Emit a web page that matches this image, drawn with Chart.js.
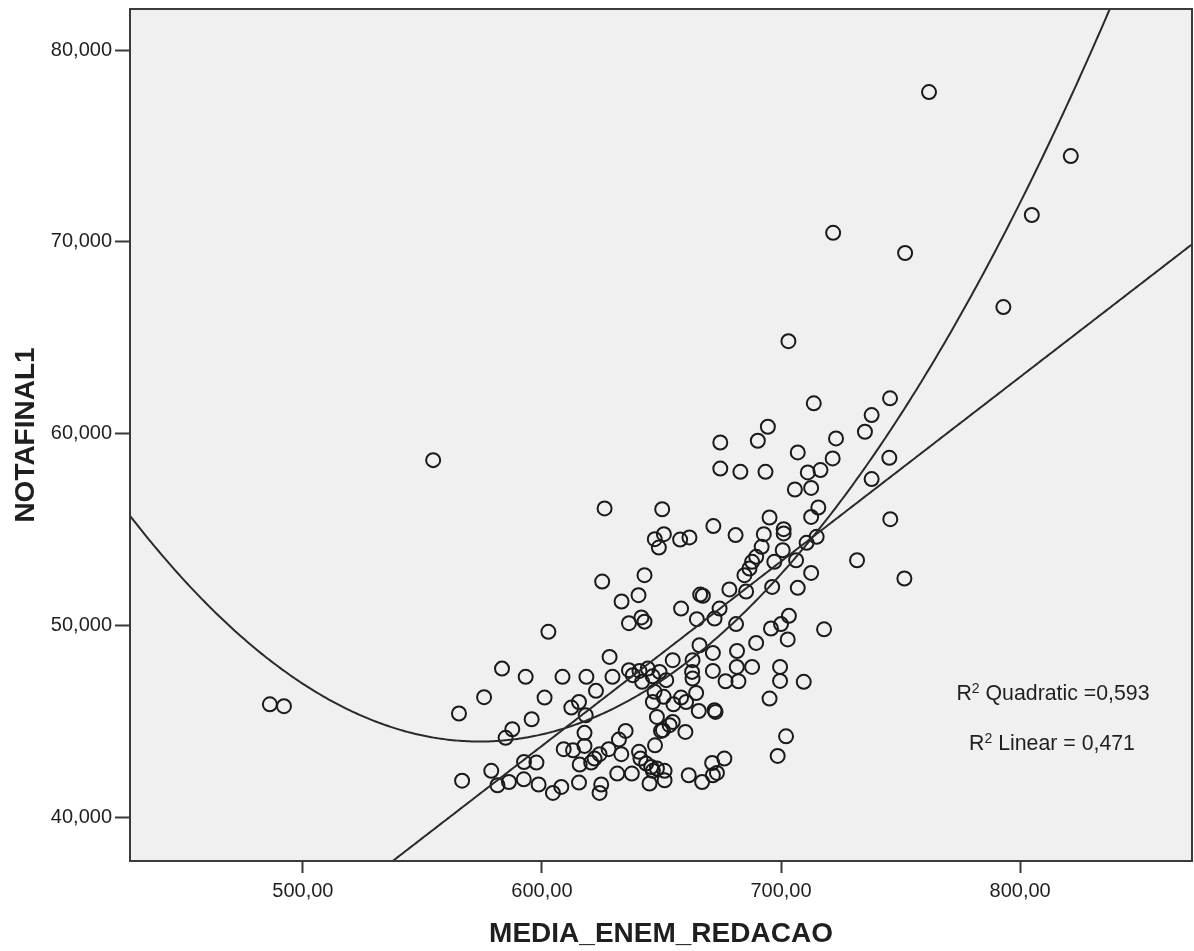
<!DOCTYPE html>
<html>
<head>
<meta charset="utf-8">
<title>NOTAFINAL1 x MEDIA_ENEM_REDACAO</title>
<script src="https://cdn.jsdelivr.net/npm/chart.js@4.4.1/dist/chart.umd.min.js"></script>
<style>
    html, body { margin: 0; padding: 0; background: #fff; }
    #wrap { width: 1194px; height: 951px; position: relative; }
</style>
</head>
<body>
<div id="wrap"><canvas id="scatter-redacao"></canvas></div>
<script>
'use strict';

// essay average (x) and final grade (y), one entry per student
const redacao = [
    761.9, 821.2, 804.9, 721.8, 751.9, 793.0, 703.1, 486.2, 492.1,
    554.5, 626.2, 650.3, 651.0, 647.2, 648.9, 642.9, 625.2, 640.4,
    713.7, 745.6, 737.9, 735.1, 694.5, 690.3, 674.6, 723.0, 707.0, 721.6,
    745.3, 674.6, 683.0, 693.5, 711.2, 716.5, 737.9, 705.8, 712.6, 715.6,
    712.6, 695.2, 745.7, 671.7, 701.1, 701.1, 657.8, 661.7, 681.0, 692.8,
    710.7, 714.9, 691.9, 700.7, 689.6, 687.9, 697.2, 706.3, 731.8, 686.8,
    684.7, 712.6, 751.6, 678.4, 685.4, 696.3, 707.0, 666.2, 667.3, 658.2,
    674.3, 703.3,
    633.3, 636.4, 641.6, 642.9, 602.7, 628.3, 583.3, 593.2, 608.6, 618.6,
    629.5, 636.4, 638.0, 640.8, 644.3, 646.3, 641.9, 649.2, 652.0, 622.6,
    615.5, 612.3, 618.3, 601.1, 575.8, 565.3, 595.7, 587.6, 584.8, 647.1,
    646.4, 648.1, 617.8, 635.0, 632.2, 649.8, 647.3, 609.1, 613.0, 617.8,
    627.9, 633.2, 640.6, 641.2, 624.1, 622.0, 620.6, 615.8, 592.5, 597.7,
    578.8, 566.6, 581.4, 586.2, 592.4, 598.6, 604.6, 608.1, 615.5, 624.8,
    624.1, 631.5, 637.6, 643.6, 645.7, 646.4, 648.1, 645.0, 651.3,
    664.8, 672.2, 681.2, 695.8, 700.0, 702.8, 718.0, 665.9, 671.5, 654.7,
    663.0, 662.8, 663.0, 681.6, 689.6, 671.5, 676.8, 681.5, 682.2, 687.9,
    699.6, 699.6, 709.5, 695.2, 664.5, 650.9, 658.2, 660.3, 655.0, 665.6,
    672.2, 672.6, 654.7, 653.4, 650.6, 660.0, 702.1, 698.6, 676.3, 671.2,
    673.2, 671.5, 661.4, 667.0, 651.3
];

const notaFinal = [
    77.81, 74.47, 71.40, 70.47, 69.42, 66.60, 64.82, 45.89, 45.79,
    58.62, 56.10, 56.06, 54.76, 54.50, 54.06, 52.62, 52.29, 51.58,
    61.58, 61.84, 60.97, 60.10, 60.36, 59.63, 59.54, 59.75, 59.02, 58.71,
    58.74, 58.18, 58.01, 58.01, 57.98, 58.10, 57.63, 57.09, 57.17, 56.15,
    55.66, 55.63, 55.54, 55.18, 55.02, 54.80, 54.48, 54.59, 54.71, 54.76,
    54.31, 54.62, 54.10, 53.92, 53.58, 53.32, 53.32, 53.40, 53.40, 52.97,
    52.62, 52.74, 52.45, 51.88, 51.77, 52.01, 51.96, 51.61, 51.55, 50.88,
    50.88, 50.50,
    51.25, 50.12, 50.42, 50.20, 49.67, 48.36, 47.75, 47.32, 47.32, 47.32,
    47.32, 47.67, 47.41, 47.63, 47.75, 47.35, 47.06, 47.58, 47.15, 46.59,
    46.01, 45.72, 45.32, 46.24, 46.26, 45.41, 45.11, 44.59, 44.14, 46.54,
    46.01, 45.23, 44.40, 44.50, 44.05, 44.50, 43.75, 43.55, 43.49, 43.72,
    43.55, 43.29, 43.41, 43.06, 43.29, 43.06, 42.85, 42.75, 42.88, 42.85,
    42.42, 41.91, 41.67, 41.84, 41.98, 41.71, 41.27, 41.58, 41.81, 41.71,
    41.27, 42.28, 42.28, 42.80, 42.62, 42.42, 42.54, 41.76, 41.93,
    50.33, 50.36, 50.07, 49.84, 50.07, 49.27, 49.80, 48.97, 48.57, 48.19,
    48.19, 47.58, 47.23, 48.67, 49.09, 47.63, 47.09, 47.84, 47.09, 47.84,
    47.84, 47.11, 47.06, 46.19, 46.48, 46.28, 46.24, 46.01, 45.89, 45.54,
    45.58, 45.49, 44.97, 44.80, 44.54, 44.45, 44.22, 43.20, 43.06, 42.83,
    42.31, 42.19, 42.19, 41.84, 42.42
];

// axis ticks
const xTicks = [500, 600, 700, 800];
const xTickLabels = ['500,00', '600,00', '700,00', '800,00'];
const yTicks = [40, 50, 60, 70, 80];
const yTickLabels = ['40,000', '50,000', '60,000', '70,000', '80,000'];

// fitted curves: y = c0 + c1*x (+ c2*x^2)
const linearCoef = [-13.98, 0.09617];
const quadraticCoef = [225.16, -0.6314, 0.00055];
const fitLabels = [' Quadratic =0,593', ' Linear = 0,471'];

const X_MIN = 427.7, X_MAX = 871.9;
const Y_MIN = 37.72, Y_MAX = 82.14;

const FONT = 'Arial, "Liberation Sans", sans-serif';
const INK = '#1f1f1f';

function curvePoints(coef) {
    const pts = [];
    for (let x = X_MIN; x <= X_MAX + 0.001; x += 1) {
        let y = 0;
        coef.forEach((c, i) => { y += c * Math.pow(x, i); });
        pts.push({x: x, y: y});
    }
    return pts;
}

// "R" with a raised "2", then the rest of the label, centred on cx
function drawRSquared(ctx, text, cx, baseline) {
    const big = '21.3px ' + FONT;
    const small = '14px ' + FONT;
    ctx.font = big;
    const wR = ctx.measureText('R').width;
    const wRest = ctx.measureText(text).width;
    ctx.font = small;
    const w2 = ctx.measureText('2').width;
    let x = cx - (wR + w2 + wRest) / 2;
    ctx.font = big;
    ctx.fillText('R', x, baseline);
    x += wR;
    ctx.font = small;
    ctx.fillText('2', x, baseline - 7);
    x += w2;
    ctx.font = big;
    ctx.fillText(text, x, baseline);
}

const plotFrame = {
    id: 'plotFrame',
    beforeDraw(chart) {
        const {ctx, chartArea: a} = chart;
        ctx.save();
        ctx.fillStyle = '#f0f0f0';
        ctx.fillRect(a.left, a.top, a.right - a.left, a.bottom - a.top);
        ctx.restore();
    },
    afterDraw(chart) {
        const {ctx, chartArea: a} = chart;
        ctx.save();
        ctx.strokeStyle = '#3a3a3a';
        ctx.lineWidth = 2;
        ctx.strokeRect(a.left, a.top, a.right - a.left, a.bottom - a.top);

        ctx.fillStyle = INK;
        ctx.textAlign = 'left';
        ctx.textBaseline = 'alphabetic';
        drawRSquared(ctx, fitLabels[0], 1053, 700);
        drawRSquared(ctx, fitLabels[1], 1052, 750);
        ctx.restore();
    }
};

const canvas = document.getElementById('scatter-redacao');

new Chart(canvas.getContext('2d'), {
    type: 'scatter',
    data: {
        datasets: [{
            label: 'NOTAFINAL1',
            data: redacao.map((x, i) => ({x: x, y: notaFinal[i]})),
            pointStyle: 'circle',
            pointRadius: 7,
            borderWidth: 2,
            borderColor: '#1a1a1a',
            backgroundColor: 'rgba(0,0,0,0)',
            order: 2
        }, {
            label: 'Quadratic',
            data: curvePoints(quadraticCoef),
            showLine: true,
            pointRadius: 0,
            borderWidth: 2,
            borderColor: '#2a2a2a',
            order: 1
        }, {
            label: 'Linear',
            data: curvePoints(linearCoef),
            showLine: true,
            pointRadius: 0,
            borderWidth: 2,
            borderColor: '#2a2a2a',
            order: 1
        }]
    },
    options: {
        responsive: true,
        maintainAspectRatio: false,
        animation: false,
        layout: {
            autoPadding: false,
            padding: {top: 9, right: 2, left: 0, bottom: 0}
        },
        plugins: {
            legend: {display: false},
            tooltip: {enabled: false}
        },
        scales: {
            x: {
                type: 'linear',
                min: X_MIN,
                max: X_MAX,
                afterBuildTicks: scale => { scale.ticks = xTicks.map(v => ({value: v})); },
                afterFit: scale => { scale.height = 90; },
                border: {display: false},
                grid: {
                    drawOnChartArea: false,
                    drawTicks: true,
                    tickLength: 12,
                    tickWidth: 2,
                    tickColor: '#3a3a3a'
                },
                ticks: {
                    padding: 6,
                    color: INK,
                    font: {family: FONT, size: 20},
                    maxRotation: 0,
                    callback: v => xTickLabels[xTicks.indexOf(v)]
                },
                title: {
                    display: true,
                    text: 'MEDIA_ENEM_REDACAO',
                    color: INK,
                    font: {family: FONT, size: 28, weight: 'bold'},
                    padding: {top: 0, bottom: 0}
                }
            },
            y: {
                type: 'linear',
                min: Y_MIN,
                max: Y_MAX,
                afterBuildTicks: scale => { scale.ticks = yTicks.map(v => ({value: v})); },
                // fixed width; labels sit well inside the range, so no extra top/bottom room
                afterFit: scale => {
                    scale.width = 130;
                    scale.paddingTop = 0;
                    scale.paddingBottom = 0;
                },
                border: {display: false},
                grid: {
                    drawOnChartArea: false,
                    drawTicks: true,
                    tickLength: 15,
                    tickWidth: 2,
                    tickColor: '#3a3a3a'
                },
                ticks: {
                    padding: 3,
                    color: INK,
                    font: {family: FONT, size: 20},
                    callback: v => yTickLabels[yTicks.indexOf(v)]
                },
                title: {
                    display: true,
                    text: 'NOTAFINAL1',
                    color: INK,
                    font: {family: FONT, size: 28, weight: 'bold'},
                    padding: {top: 9, bottom: 0}
                }
            }
        }
    },
    plugins: [plotFrame]
});
</script>
</body>
</html>
